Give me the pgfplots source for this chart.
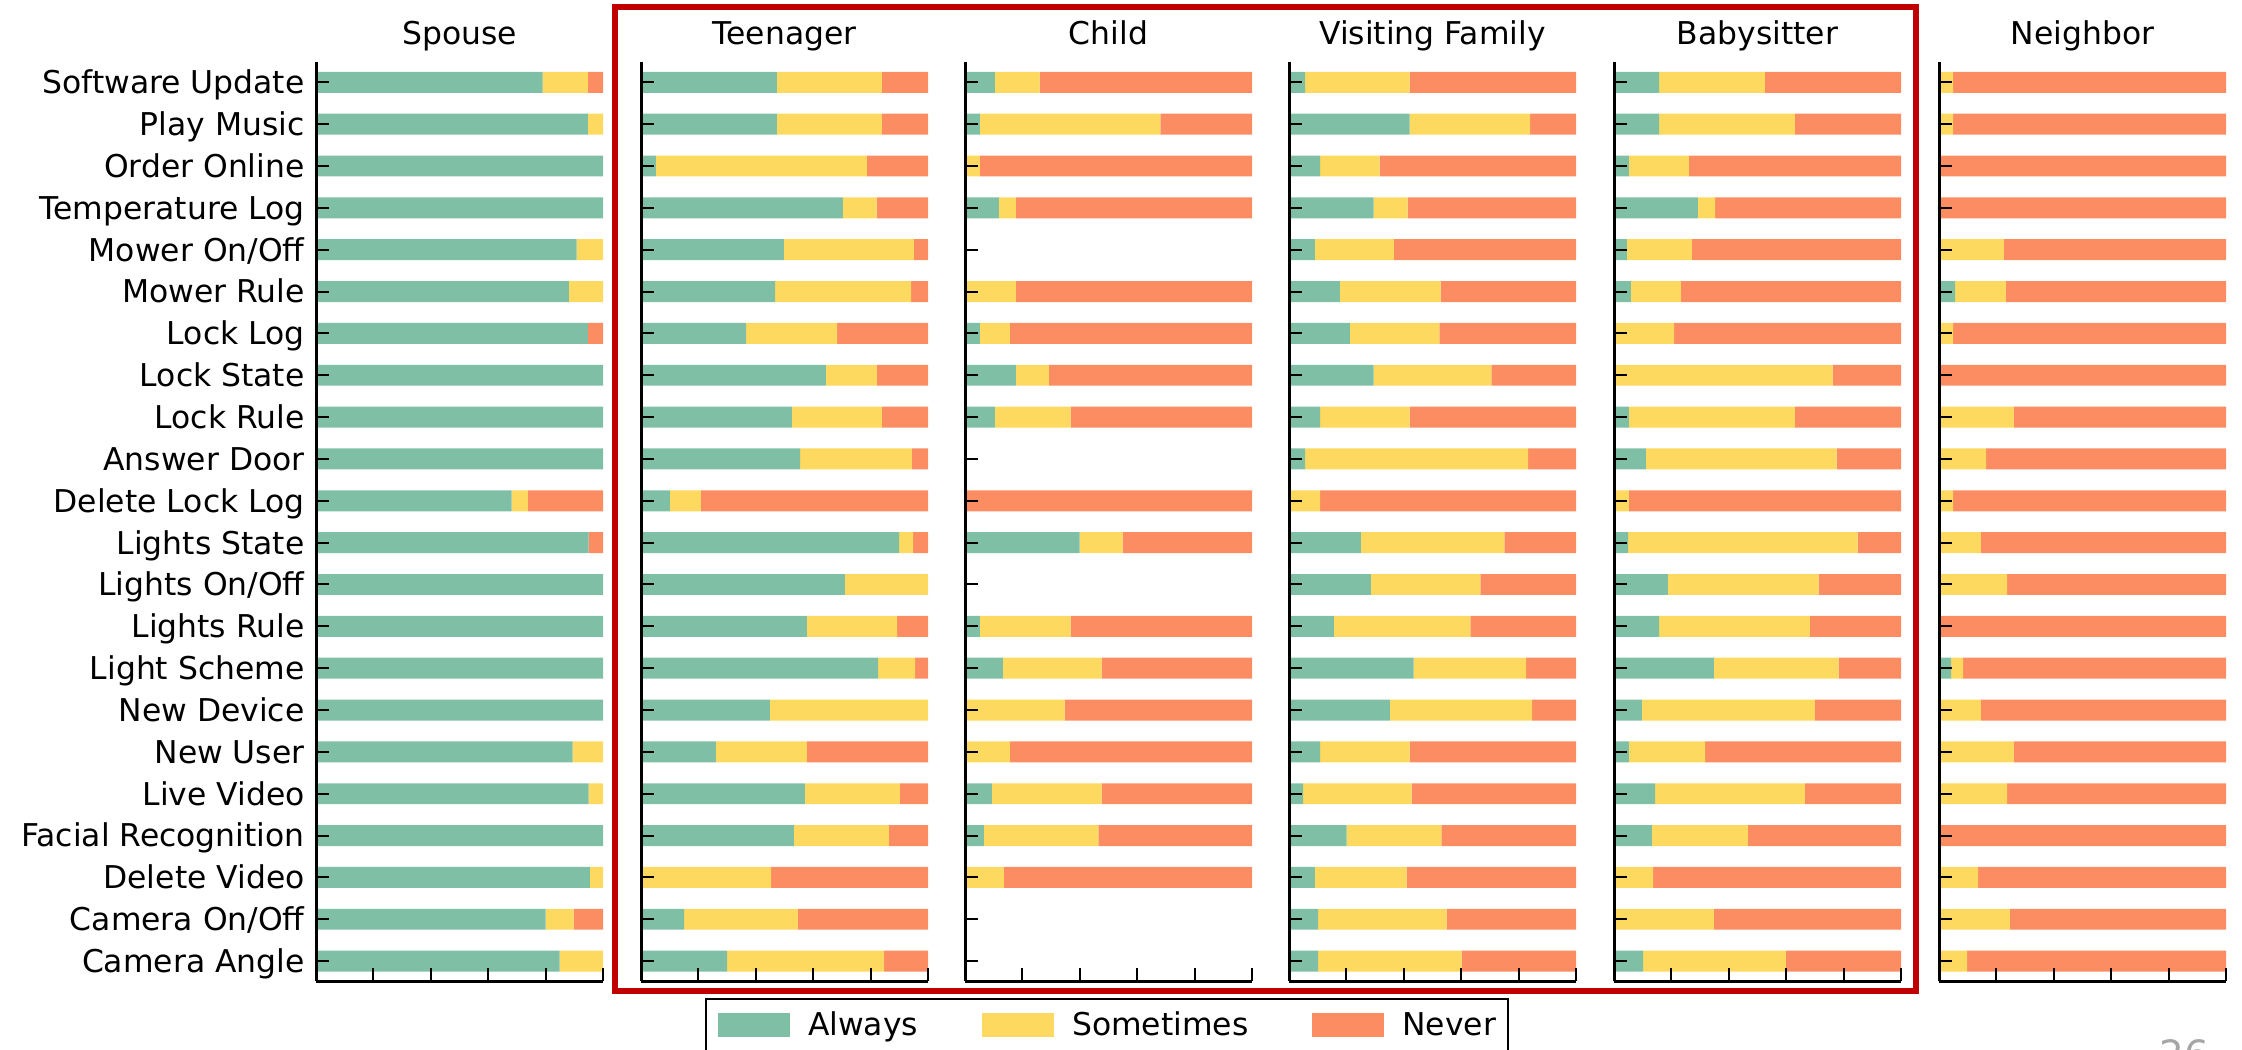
\documentclass[border=0pt]{standalone}
\usepackage{fontspec}
\setmainfont{DejaVu Sans}
\usepackage{pgfplots}
\usepackage{pgfplotstable}
\pgfplotsset{compat=1.18}

\definecolor{always}{HTML}{7FBFA6}
\definecolor{sometimes}{HTML}{FDD95F}
\definecolor{never}{HTML}{FC8D62}
\definecolor{boxred}{HTML}{C00000}
\newcommand{\lbl}{\fontsize{15.7}{18}\selectfont}

% row: 21 = Software Update (top) ... 0 = Camera Angle (bottom); percent
\pgfplotstableread{
row A S N
21 79.0 15.7 5.3
20 94.7 5.3 0
19 100 0 0
18 100 0 0
17 90.8 9.2 0
16 88.1 11.9 0
15 94.7 0 5.3
14 100 0 0
13 100 0 0
12 100 0 0
11 68.2 5.6 26.2
10 95.0 0 5.0
9 100 0 0
8 100 0 0
7 100 0 0
6 100 0 0
5 89.4 10.6 0
4 95.0 5.0 0
3 100 0 0
2 95.4 4.6 0
1 80.0 9.8 10.2
0 84.9 15.1 0
}\spouse

\pgfplotstableread{
row A S N
21 47.3 36.6 16.1
20 47.3 36.6 16.1
19 5.2 73.5 21.3
18 70.3 11.8 17.9
17 49.8 45.3 4.9
16 46.7 47.4 5.9
15 36.6 31.7 31.7
14 64.4 17.8 17.8
13 52.6 31.3 16.1
12 55.4 39.0 5.6
11 10.1 10.8 79.1
10 89.9 4.9 5.2
9 71.0 29.0 0
8 57.8 31.4 10.8
7 82.6 12.9 4.5
6 44.9 55.1 0
5 26.1 31.7 42.2
4 57.1 33.1 9.8
3 53.3 33.1 13.6
2 0 45.3 54.7
1 15.0 39.7 45.3
0 30.0 54.7 15.3
}\teen

\pgfplotstableread{
row A S N
21 10.4 15.6 74.0
20 5.2 62.9 31.9
19 0 5.2 94.8
18 11.8 5.9 82.3
17 0 0 0
16 0 17.7 82.3
15 5.2 10.4 84.4
14 17.7 11.5 70.8
13 10.4 26.4 63.2
12 0 0 0
11 0 0 100
10 39.9 15.0 45.1
9 0 0 0
8 5.2 31.6 63.2
7 13.2 34.4 52.4
6 0 34.7 65.3
5 0 15.6 84.4
4 9.4 38.2 52.4
3 6.6 39.9 53.5
2 0 13.5 86.5
1 0 0 0
0 0 0 0
}\child

\pgfplotstableread{
row A S N
21 5.6 36.4 58.0
20 42.0 42.0 16.0
19 10.8 20.8 68.4
18 29.5 11.8 58.7
17 9.0 27.5 63.5
16 17.7 35.1 47.2
15 21.2 31.2 47.6
14 29.5 41.0 29.5
13 10.8 31.2 58.0
12 5.6 77.7 16.7
11 0 10.8 89.2
10 25.0 50.0 25.0
9 28.5 38.2 33.3
8 15.6 47.6 36.8
7 43.4 39.2 17.4
6 35.1 49.6 15.3
5 10.8 31.2 58.0
4 4.9 37.8 57.3
3 20.1 33.0 46.9
2 9.0 32.0 59.0
1 10.1 44.8 45.1
0 10.1 50.0 39.9
}\family

\pgfplotstableread{
row A S N
21 15.7 36.9 47.4
20 15.7 47.3 37.0
19 5.2 20.9 73.9
18 29.2 6.0 64.8
17 4.5 22.6 72.9
16 5.9 17.4 76.7
15 0 20.9 79.1
14 0 76.2 23.8
13 5.2 57.8 37.0
12 11.1 66.5 22.4
11 0 5.2 94.8
10 4.9 80.0 15.1
9 18.8 52.5 28.7
8 15.7 52.5 31.8
7 34.8 43.5 21.7
6 9.7 60.3 30.0
5 5.2 26.5 68.3
4 14.3 52.2 33.5
3 13.2 33.4 53.4
2 0 13.6 86.4
1 0 34.8 65.2
0 10.1 49.8 40.1
}\sitter

\pgfplotstableread{
row A S N
21 0 4.9 95.1
20 0 4.9 95.1
19 0 0 100
18 0 0 100
17 0 22.6 77.4
16 5.6 17.7 76.7
15 0 4.9 95.1
14 0 0 100
13 0 26.1 73.9
12 0 16.4 83.6
11 0 4.9 95.1
10 0 14.6 85.4
9 0 23.7 76.3
8 0 0 100
7 4.2 4.2 91.6
6 0 14.6 85.4
5 0 26.1 73.9
4 0 23.7 76.3
3 0 0 100
2 0 13.6 86.4
1 0 24.7 75.3
0 0 9.8 90.2
}\neighbor

\pgfplotsset{
  panel/.style={
    xbar stacked,
    scale only axis,
    width=143.5pt, height=459.5pt,
    anchor=south west,
    xmin=0, xmax=100, ymin=-0.475, ymax=21.485,
    bar width=0.5,
    axis lines=left,
    axis line style={-, line width=1.5pt},
    axis on top,
    xtick={0,20,...,100}, xticklabels={},
    ytick={0,...,21}, yticklabels={},
    tick align=inside,
    major tick length=6.5pt,
    tick style={black, line width=1pt},
    title style={at={(0.5,1)}, anchor=base, yshift=2.6pt, inner sep=0pt, font=\lbl},
    every axis plot/.append style={draw=none},
  },
  lgd/.style={legend image code/.code={\fill[##1] (0pt,-6pt) rectangle (36pt,6pt);}},
}

\newcommand{\panel}[4][]{%
  \begin{axis}[panel, at={(#2,-490.5pt)}, title={#4}, #1]
  \addplot[fill=always, lgd] table[x=A, y=row]{#3};
  \addplot[fill=sometimes, lgd] table[x=S, y=row]{#3};
  \addplot[fill=never, lgd] table[x=N, y=row]{#3};
  \end{axis}}

\begin{document}
\begin{tikzpicture}
\path[use as bounding box] (0pt,0pt) rectangle (1121pt,-524.5pt);

\panel[yticklabels={Camera Angle, Camera On/Off, Delete Video, Facial Recognition,
    Live Video, New User, New Device, Light Scheme, Lights Rule, Lights On/Off,
    Lights State, Delete Lock Log, Answer Door, Lock Rule, Lock State, Lock Log,
    Mower Rule, Mower On/Off, Temperature Log, Order Online, Play Music, Software Update},
  yticklabel style={font=\lbl, inner sep=0pt, anchor=base east, xshift=-5.5pt, yshift=-5.7pt}]
  {158pt}{\spouse}{Spouse}

\panel[legend entries={Always, Sometimes, Never},
  legend columns=3,
  legend style={at={(0.223,-0.0185)}, anchor=north west, draw=black, line width=1pt,
    font=\lbl, nodes={inner sep=0pt}, inner xsep=6pt, inner ysep=6.5pt,
    /tikz/every odd column/.append style={column sep=9pt},
    /tikz/every even column/.append style={column sep=32pt}}]
  {320.5pt}{\teen}{Teenager}

\panel{482.5pt}{\child}{Child}
\panel{644.5pt}{\family}{Visiting Family}
\panel{807pt}{\sitter}{Babysitter}
\panel{969.5pt}{\neighbor}{Neighbor}

\draw[boxred, line width=3pt] (307.5pt,-3.5pt) rectangle (958pt,-495.5pt);
\node[anchor=base west, text=black!35, inner sep=0pt, font=\fontsize{19.5}{20}\selectfont]
  at (1079.5pt,-534pt) {26};
\end{tikzpicture}
\end{document}
